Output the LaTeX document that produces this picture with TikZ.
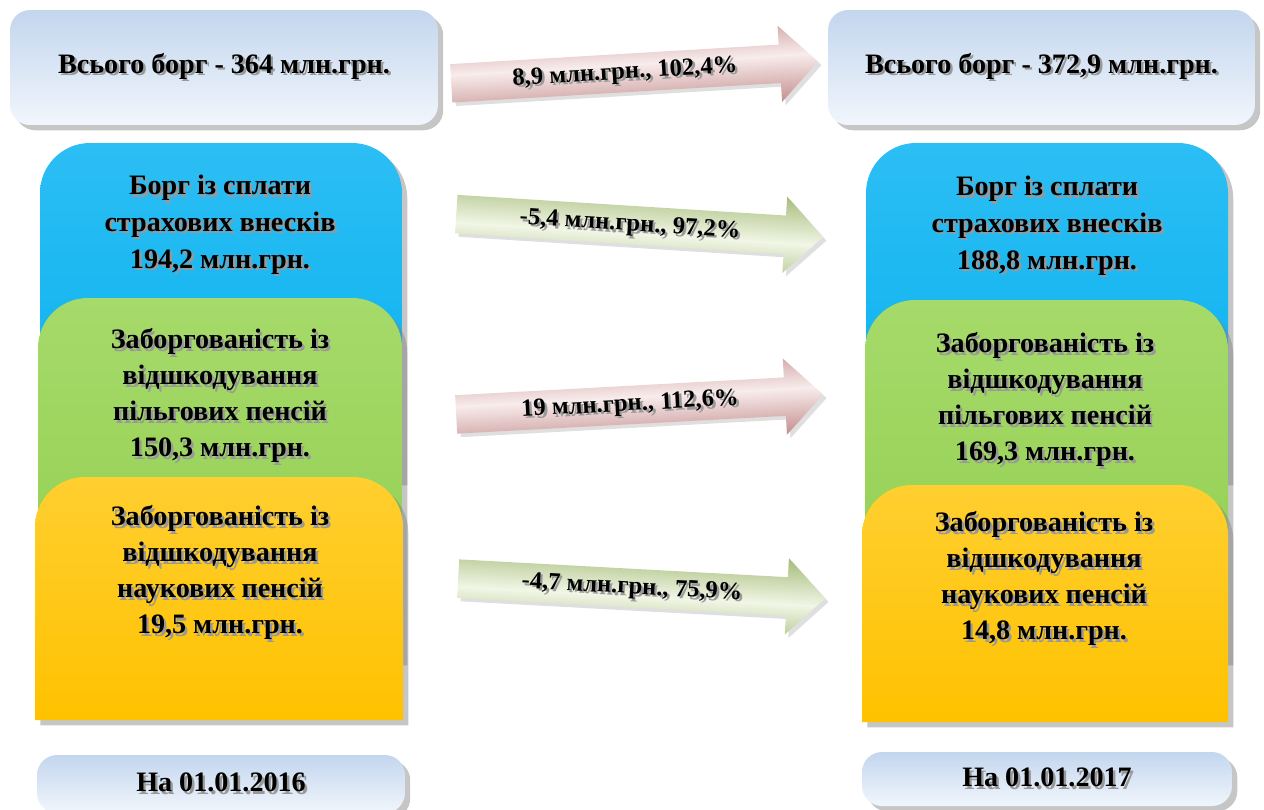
\documentclass[tikz,border=0pt]{standalone}
\usepackage{fontspec}
\setmainfont{Liberation Serif}
\usetikzlibrary{shapes.arrows,shadows}

\definecolor{bx1}{HTML}{C3D6EE}
\definecolor{bx2}{HTML}{F1F6FC}
\definecolor{bl1}{HTML}{2CBEF4}
\definecolor{bl2}{HTML}{06B0EF}
\definecolor{gr1}{HTML}{A6DA6A}
\definecolor{gr2}{HTML}{90CE4E}
\definecolor{ye1}{HTML}{FFCF30}
\definecolor{ye2}{HTML}{FFC200}
\definecolor{pk1}{HTML}{C48E8E}
\definecolor{pk2}{HTML}{F8ECEC}
\definecolor{og1}{HTML}{A6BC7A}
\definecolor{og2}{HTML}{F1F6E6}

% text with a soft shadow
\newcommand\shd[1]{\makebox[0pt][l]{\hspace{1.4pt}\raisebox{-1.4pt}{\color{black!40}#1}}#1}

\begin{document}
\begin{tikzpicture}[x=0.02cm,y=-0.02cm,
	every node/.style={font=\fontsize{16}{20.5}\selectfont\bfseries,align=center},
	shd/.style={drop shadow={shadow xshift=3pt,shadow yshift=-3pt,opacity=0.45}},
	lbl/.style={rounded corners=0.4cm,top color=bx1,bottom color=bx2,shd,inner sep=0pt},
	arr/.style={single arrow,single arrow head extend=0.38cm,minimum height=7.35cm,
		text height=9.5pt,text depth=3pt,inner ysep=4.5pt,inner xsep=2pt,
		font=\fontsize{14}{16}\selectfont\bfseries,
		drop shadow={shadow xshift=2pt,shadow yshift=-2pt,opacity=0.25}},
	pink/.style={arr,top color=pk1,bottom color=pk1,middle color=pk2,rotate=#1,shading angle=#1},
	olive/.style={arr,top color=og1,bottom color=og1,middle color=og2,rotate=#1,shading angle=#1}]
	\useasboundingbox (0,0) rectangle (1264,809);

	% top totals
	\node[lbl,minimum width=8.56cm,minimum height=2.3cm] (tl) at (224,67.5) {\shd{Всього борг - 364 млн.грн.}};
	\node[lbl,minimum width=8.54cm,minimum height=2.3cm] (tr) at (1041.5,67.5) {\shd{Всього борг - 372,9 млн.грн.}};

	% left stack
	\shade[shd,top color=bl1,bottom color=bl2] (40,480) -- (40,193) arc[start angle=180,end angle=90,radius=1cm]
		-- (352,143) arc[start angle=90,end angle=0,radius=1cm] -- (402,480) -- cycle;
	\shade[shd,top color=gr1,bottom color=gr2] (38,660) -- (38,348) arc[start angle=180,end angle=90,radius=1cm]
		-- (352,298) arc[start angle=90,end angle=0,radius=1cm] -- (402,660) -- cycle;
	\shade[shd,top color=ye1,bottom color=ye2] (35,720) -- (35,527) arc[start angle=180,end angle=90,radius=1cm]
		-- (353,477) arc[start angle=90,end angle=0,radius=1cm] -- (403,720) -- cycle;
	\node[font=\fontsize{16}{21}\selectfont\bfseries] (b1) at (220,226) {\shd{Борг із сплати}\\\shd{страхових внесків}\\\shd{194,2 млн.грн.}};
	\node (g1) at (220,397) {\shd{Заборгованість із}\\\shd{відшкодування}\\\shd{пільгових пенсій}\\\shd{150,3 млн.грн.}};
	\node (y1) at (220,574) {\shd{Заборгованість із}\\\shd{відшкодування}\\\shd{наукових пенсій}\\\shd{19,5 млн.грн.}};

	% right stack
	\shade[shd,top color=bl1,bottom color=bl2] (866,480) -- (866,193) arc[start angle=180,end angle=90,radius=1cm]
		-- (1178,143) arc[start angle=90,end angle=0,radius=1cm] -- (1228,480) -- cycle;
	\shade[shd,top color=gr1,bottom color=gr2] (865,660) -- (865,350) arc[start angle=180,end angle=90,radius=1cm]
		-- (1178,300) arc[start angle=90,end angle=0,radius=1cm] -- (1228,660) -- cycle;
	\shade[shd,top color=ye1,bottom color=ye2] (862,722) -- (862,535) arc[start angle=180,end angle=90,radius=1cm]
		-- (1178,485) arc[start angle=90,end angle=0,radius=1cm] -- (1228,722) -- cycle;
	\node[font=\fontsize{16}{21}\selectfont\bfseries] (b2) at (1047,227) {\shd{Борг із сплати}\\\shd{страхових внесків}\\\shd{188,8 млн.грн.}};
	\node (g2) at (1045,401) {\shd{Заборгованість із}\\\shd{відшкодування}\\\shd{пільгових пенсій}\\\shd{169,3 млн.грн.}};
	\node (y2) at (1044,580) {\shd{Заборгованість із}\\\shd{відшкодування}\\\shd{наукових пенсій}\\\shd{14,8 млн.грн.}};

	% changes
	\node[pink=3.4] (a1) at (625,73) {\shd{8,9 млн.грн., 102,4\%}};
	\node[olive=-3.6] (a2) at (630,225) {\shd{-5,4 млн.грн., 97,2\%}};
	\node[pink=3.1] (a3) at (630,405) {\shd{19 млн.грн., 112,6\%}};
	\node[olive=-3.1] (a4) at (632,588) {\shd{-4,7 млн.грн., 75,9\%}};

	% dates
	\node[lbl,minimum width=7.36cm,minimum height=1.16cm] (dl) at (221,784) {\shd{На 01.01.2016}};
	\node[lbl,minimum width=7.4cm,minimum height=1.08cm] (dr) at (1047,779) {\shd{На 01.01.2017}};
\end{tikzpicture}
\end{document}
